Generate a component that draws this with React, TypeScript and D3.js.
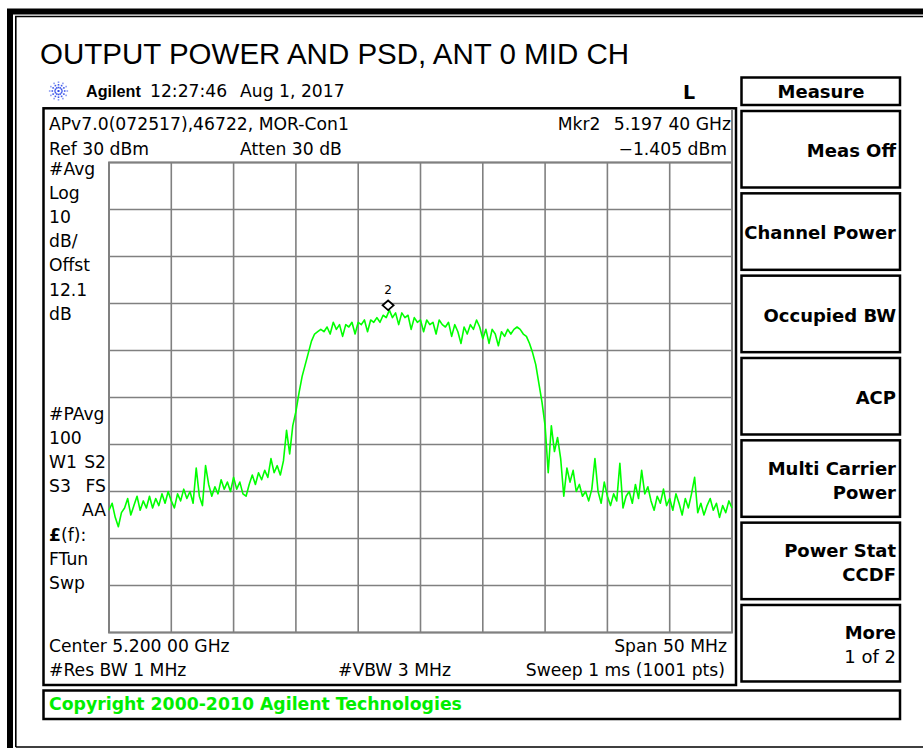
import React from 'react';
import * as d3 from 'd3';

// sweep settings (Center 5.200 GHz, Span 50 MHz, Ref 30 dBm, 10 dB/div)
const startGHz = 5.175;
const stopGHz = 5.225;
const refLevelDbm = 30;
const dbPerDiv = 10;

const xGridGHz = [5.175, 5.18, 5.185, 5.19, 5.195, 5.2, 5.205, 5.21, 5.215, 5.22, 5.225];
const yGridDbm = [30, 20, 10, 0, -10, -20, -30, -40, -50, -60, -70];

// trace, every 0.25 MHz
const traceDbm = [
  -44.0, -42.5, -45.5, -47.5, -44.5, -43.5, -41.5, -45.0, -43.0, -41.0,
  -44.0, -42.0, -43.5, -41.0, -43.5, -41.5, -43.0, -40.5, -42.5, -40.0,
  -42.0, -43.5, -40.5, -42.0, -39.5, -41.5, -40.0, -42.5, -35.0, -41.0,
  -43.0, -34.5, -38.5, -41.0, -39.0, -40.5, -37.5, -39.5, -38.0, -40.0,
  -37.0, -39.5, -38.0, -40.5, -41.0, -38.5, -36.5, -38.5, -36.0, -37.5,
  -35.5, -37.0, -33.0, -36.0, -34.5, -36.5, -33.5, -27.0, -32.0, -26.0,
  -23.0, -19.0, -15.5, -13.0, -10.5, -8.0, -6.5, -6.0, -5.5, -6.0,
  -5.0, -6.5, -4.0, -5.5, -4.5, -7.0, -4.5, -5.0, -4.0, -6.5,
  -4.0, -4.5, -3.5, -6.0, -3.5, -4.0, -3.0, -4.0, -2.5, -3.0,
  -1.4, -3.0, -2.0, -4.5, -2.0, -3.0, -2.5, -5.5, -3.0, -4.0,
  -3.5, -6.0, -3.5, -4.5, -4.0, -6.5, -3.5, -4.5, -5.0, -4.0,
  -7.0, -4.5, -6.0, -8.5, -5.0, -6.5, -4.5, -5.5, -3.5, -5.0,
  -7.5, -5.5, -8.5, -5.5, -6.5, -9.0, -6.0, -7.0, -5.5, -6.5,
  -5.5, -5.0, -5.5, -6.5, -7.0, -8.5, -10.5, -13.0, -17.0, -21.0,
  -26.0, -36.0, -26.0, -31.5, -28.5, -33.0, -41.0, -35.0, -38.0, -35.5,
  -40.0, -38.5, -41.0, -40.0, -42.0, -39.5, -33.0, -40.0, -42.5, -38.0,
  -41.0, -43.0, -40.5, -42.0, -34.0, -43.5, -41.0, -40.0, -42.5, -38.5,
  -41.5, -35.5, -40.5, -39.0, -42.0, -44.0, -41.0, -42.5, -39.5, -43.0,
  -41.5, -44.0, -40.5, -42.5, -45.0, -41.5, -43.5, -40.5, -37.0, -44.5,
  -42.5, -45.0, -43.0, -41.5, -44.0, -42.5, -45.5, -43.0, -44.5, -42.0,
  -43.5,
];

const markerLabel = '2';
const markerGHz = 5.1974;
const markerDbm = -1.405;

const leftTop = ['#Avg', 'Log', '10', 'dB/', 'Offst', '12.1', 'dB'];
const leftBottom = ['#PAvg', '100', 'W1|S2', 'S3|FS', '|AA', '£(f):', 'FTun', 'Swp'];

const softkeys = [
  ['Meas Off'],
  ['Channel Power'],
  ['Occupied BW'],
  ['ACP'],
  ['Multi Carrier', 'Power'],
  ['Power Stat', 'CCDF'],
  ['More', '1 of 2'],
];

const FONT = '"DejaVu Sans", "Noto Sans", sans-serif';
const FS = 17.2;
const plot = { left: 109, right: 732, top: 162.5, bottom: 632.5 };

function T({ x, y, children, anchor = 'start', bold = false, size = FS, fill = '#000', family = FONT }: any) {
  return (
    <text x={x} y={y} textAnchor={anchor} fontFamily={family} fontSize={size}
      fontWeight={bold ? 'bold' : 'normal'} fill={fill} style={{ whiteSpace: 'pre' }}>
      {children}
    </text>
  );
}

function AgilentSpark({ cx, cy }: { cx: number; cy: number }) {
  const rays = d3.range(12).map(k => (k * Math.PI) / 6);
  return (
    <g fill="#2b47e8">
      <rect x={cx - 1} y={cy - 1} width={2} height={2} />
      {rays.map((a, k) =>
        [3.5, 6.2, 8.8].map((r, j) => (
          <rect key={k + '-' + j} x={cx + r * Math.cos(a) - 0.8} y={cy + r * Math.sin(a) - 0.8}
            width={1.6} height={1.6} opacity={j === 2 ? 0.55 : 0.9} />
        ))
      )}
    </g>
  );
}

export default function App() {
  const x = d3.scaleLinear().domain([startGHz, stopGHz]).range([plot.left, plot.right]);
  const y = d3.scaleLinear().domain([refLevelDbm - 10 * dbPerDiv, refLevelDbm]).range([plot.bottom, plot.top]);
  const step = (stopGHz - startGHz) / (traceDbm.length - 1);
  const line = d3.line<number>()
    .x((_, i) => x(startGHz + i * step))
    .y(d => y(d));

  const mx = x(markerGHz);
  const my = y(markerDbm);

  const keyTop = (i: number) => 111 + i * 82.33;
  const pitch = 24.2;

  return (
    <svg width={923} height={748} style={{ position: 'absolute', left: 0, top: 0, background: '#fff' }}>
      {/* outer frame */}
      <path d="M10 748 V11.5 H923" fill="none" stroke="#000" strokeWidth={6} />
      <path d="M15.8 747 V16.5 H923 M15.8 747 H923" fill="none" stroke="#000" strokeWidth={1.6} />

      <T x={40} y={64} size={29.5} family='"Liberation Sans", Arial, sans-serif'>OUTPUT POWER AND PSD, ANT 0 MID CH</T>

      {/* header line */}
      <AgilentSpark cx={58.5} cy={91} />
      <T x={86} y={96.5} size={16.2} bold family='"Liberation Sans", Arial, sans-serif'>Agilent</T>
      <T x={150} y={96.5}>12:27:46</T>
      <T x={240} y={96.5}>Aug 1, 2017</T>
      <T x={683} y={99} bold size={19}>L</T>

      {/* display area */}
      <rect x={43.5} y={108.3} width={692.5} height={576.7} fill="none" stroke="#000" strokeWidth={2.5} />
      <line x1={732} x2={732} y1={109.5} y2={plot.top} stroke="#808080" strokeWidth={2} />

      <T x={49} y={129.5}>APv7.0(072517),46722, MOR-Con1</T>
      <T x={557.7} y={129.5}>Mkr2</T>
      <T x={731} y={129.5} anchor="end">5.197 40 GHz</T>
      <T x={49} y={154.5}>Ref 30 dBm</T>
      <T x={240} y={154.5}>Atten 30 dB</T>
      <T x={727} y={154.5} anchor="end">−1.405 dBm</T>

      {leftTop.map((s, i) => (
        <T key={'lt' + i} x={49} y={174.5 + i * pitch}>{s}</T>
      ))}
      {leftBottom.map((s, i) => {
        const yy = 419.5 + i * pitch;
        if (s.includes('|')) {
          const [a, b] = s.split('|');
          return (
            <g key={'lb' + i}>
              {a && <T x={49} y={yy}>{a}</T>}
              <T x={106} y={yy} anchor="end">{b}</T>
            </g>
          );
        }
        if (s.startsWith('£')) {
          return (
            <text key={'lb' + i} x={49} y={yy} fontFamily={FONT} fontSize={FS}>
              <tspan fontWeight="bold">£</tspan>{s.slice(1)}
            </text>
          );
        }
        return <T key={'lb' + i} x={49} y={yy}>{s}</T>;
      })}

      {/* graticule */}
      <g stroke="#808080" strokeWidth={1.6}>
        {xGridGHz.map(f => (
          <line key={'gx' + f} x1={x(f)} x2={x(f)} y1={plot.top} y2={plot.bottom} />
        ))}
        {yGridDbm.map(d => (
          <line key={'gy' + d} x1={plot.left} x2={plot.right} y1={y(d)} y2={y(d)} />
        ))}
      </g>
      <rect x={plot.left} y={plot.top} width={plot.right - plot.left} height={plot.bottom - plot.top}
        fill="none" stroke="#808080" strokeWidth={2} />

      {/* trace */}
      <path d={line(traceDbm) || ''} fill="none" stroke="#00ff00" strokeWidth={1.6} strokeLinejoin="round" />

      {/* marker */}
      <path d={`M${mx} ${my} L${mx + 5.5} ${my - 4.8} L${mx} ${my - 9.6} L${mx - 5.5} ${my - 4.8} Z`}
        fill="#fff" stroke="#000" strokeWidth={1.8} />
      <T x={mx} y={my - 16.5} anchor="middle" size={12}>{markerLabel}</T>

      {/* bottom annotations */}
      <T x={49} y={652}>Center 5.200 00 GHz</T>
      <T x={727} y={652} anchor="end">Span 50 MHz</T>
      <T x={49} y={675.5}>#Res BW 1 MHz</T>
      <T x={338} y={675.5}>#VBW 3 MHz</T>
      <T x={725} y={675.5} anchor="end">Sweep 1 ms (1001 pts)</T>

      {/* softkeys */}
      <rect x={741.5} y={77.5} width={158.5} height={27.5} fill="none" stroke="#000" strokeWidth={2.5} />
      <T x={821} y={98} anchor="middle" bold size={18}>Measure</T>
      {softkeys.map((lines, i) => {
        const top = keyTop(i);
        return (
          <g key={'sk' + i}>
            <rect x={741.5} y={top} width={158.5} height={76.5} fill="none" stroke="#000" strokeWidth={2.5} />
            {lines.length === 1 ? (
              <T x={896} y={top + 46} anchor="end" bold size={18}>{lines[0]}</T>
            ) : (
              <>
                <T x={896} y={top + 34.5} anchor="end" bold size={18}>{lines[0]}</T>
                <T x={896} y={top + 58.5} anchor="end" bold={lines[1] !== '1 of 2'} size={18}>{lines[1]}</T>
              </>
            )}
          </g>
        );
      })}

      {/* copyright bar */}
      <rect x={43.5} y={690.5} width={856.5} height={28.5} fill="none" stroke="#000" strokeWidth={2.5} />
      <T x={49} y={710} bold size={17.3} fill="#00ee00">Copyright 2000-2010 Agilent Technologies</T>
    </svg>
  );
}
